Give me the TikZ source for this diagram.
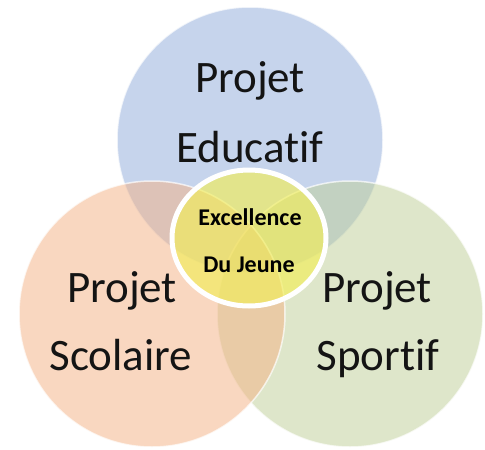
\documentclass[tikz,border=0pt]{standalone}
\usepackage{fontspec}
\setmainfont{Carlito}[RawFeature={-liga;-clig;-dlig}]
\begin{document}
\begin{tikzpicture}[x=1pt,y=-1pt,
  bubble/.style={draw=white,line width=1.5pt,draw opacity=0.7,fill opacity=0.5},
  bigtext/.style={anchor=base,font=\fontsize{45}{45}\selectfont,text=black!92},
  smalltext/.style={anchor=base,font=\fontsize{24}{24}\bfseries\selectfont,text=black}]
\definecolor{cblue}{HTML}{8EAADB}
\definecolor{corange}{HTML}{F4B183}
\definecolor{cgreen}{HTML}{BFCF97}
\definecolor{cyellow}{HTML}{F2EE58}
\useasboundingbox (0,0) rectangle (485,450);
\fill[white] (0,0) rectangle (485,450);
\path[bubble,fill=cblue] (250,140) circle[radius=133];
\path[bubble,fill=cgreen] (350,314) circle[radius=133];
\path[bubble,fill=corange] (152,314) circle[radius=133];
\path[draw=white,line width=5pt,fill=cyellow,fill opacity=0.65] (249,238) ellipse[x radius=77,y radius=68];
\node[bigtext] (p1) at (250,92) {Projet};
\node[bigtext] (e1) at (250,162) {Educatif};
\node[bigtext] (p2) at (122,302) {Projet};
\node[bigtext] (s2) at (121,370) {Scolaire};
\node[bigtext] (p3) at (377,302) {Projet};
\node[bigtext] (s3) at (378,370) {Sportif};
\node[smalltext] (ex) at (250,225) {Excellence};
\node[smalltext] (dj) at (249,272) {Du Jeune};
\end{tikzpicture}
\end{document}
